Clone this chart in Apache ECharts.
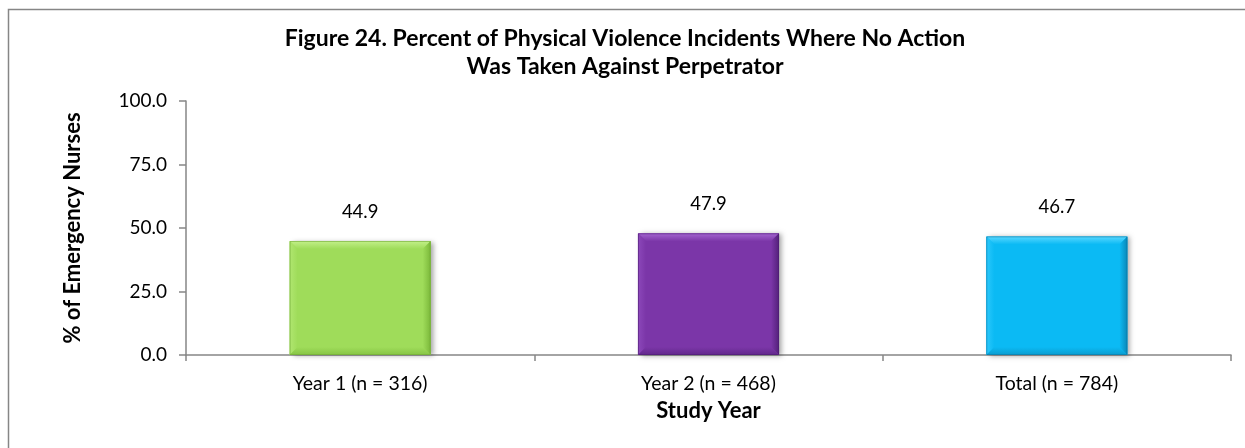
<!DOCTYPE html>
<html>
<head>
<meta charset="utf-8">
<script src="https://cdn.jsdelivr.net/npm/echarts@6/dist/echarts.min.js"></script>
<style>
  html, body { margin: 0; padding: 0; background: #ffffff; }
  #chart { width: 1245px; height: 448px; }
</style>
</head>
<body>
<div id="chart"></div>
<script>
// Study years and the share of physical violence incidents with no action taken
const categories = ['Year 1 (n = 316)', 'Year 2 (n = 468)', 'Total (n = 784)'];
const values = [44.9, 47.9, 46.7];
const yTicks = [0, 25, 50, 75, 100];

// Bevelled bar palettes: face, lit top/left edges, shaded right/bottom edges
const palettes = [
  { face: '#9fdc5a', top: '#c3f08a', left: '#b0e670', right: '#7bb83a', bottom: '#86c444', line: '#6fa836' },
  { face: '#7b36a8', top: '#a466d0', left: '#8c48ba', right: '#53207a', bottom: '#62288c', line: '#4e1d74' },
  { face: '#0bbaf4', top: '#5ad8ff', left: '#2cc8fb', right: '#0887b8', bottom: '#0a9ccf', line: '#0a7aa6' }
];

const FONT = 'Lato, "Open Sans", sans-serif';

function renderBar(params, api) {
  const idx = api.value(0);
  const val = api.value(1);
  const top = api.coord([idx, val]);
  const base = api.coord([idx, 0]);
  const band = api.size([1, 0])[0];
  const w = band * 0.405;
  const x0 = top[0] - w / 2, x1 = top[0] + w / 2;
  const y0 = top[1], y1 = base[1];
  const b = 8;
  const c = palettes[params.dataIndex % palettes.length];
  return {
    type: 'group',
    children: [
      { type: 'rect', shape: { x: x0, y: y0, width: w, height: y1 - y0 },
        style: { fill: c.face, shadowBlur: 5, shadowOffsetX: 3, shadowOffsetY: 1, shadowColor: 'rgba(0,0,0,0.35)' } },
      { type: 'polygon', shape: { points: [[x0, y0], [x1, y0], [x1 - b, y0 + b], [x0 + b, y0 + b]] },
        style: { fill: { type: 'linear', x: 0, y: 0, x2: 0, y2: 1, colorStops: [{ offset: 0, color: c.top }, { offset: 1, color: c.face }] } } },
      { type: 'polygon', shape: { points: [[x0, y0], [x0 + b, y0 + b], [x0 + b, y1 - b], [x0, y1]] },
        style: { fill: { type: 'linear', x: 0, y: 0, x2: 1, y2: 0, colorStops: [{ offset: 0, color: c.left }, { offset: 1, color: c.face }] } } },
      { type: 'polygon', shape: { points: [[x1, y0], [x1, y1], [x1 - b, y1 - b], [x1 - b, y0 + b]] },
        style: { fill: { type: 'linear', x: 0, y: 0, x2: 1, y2: 0, colorStops: [{ offset: 0, color: c.face }, { offset: 1, color: c.right }] } } },
      { type: 'polygon', shape: { points: [[x0, y1], [x1, y1], [x1 - b, y1 - b], [x0 + b, y1 - b]] },
        style: { fill: { type: 'linear', x: 0, y: 0, x2: 0, y2: 1, colorStops: [{ offset: 0, color: c.face }, { offset: 1, color: c.bottom }] } } },
      { type: 'rect', shape: { x: x0 + 0.5, y: y0 + 0.5, width: w - 1, height: y1 - y0 - 1 },
        style: { fill: null, stroke: c.line, lineWidth: 1, opacity: 0.6 } },
      { type: 'text', x: top[0], y: y0 - 29,
        style: { text: val.toFixed(1), fill: '#000000', font: '18.5px ' + FONT, align: 'center', verticalAlign: 'middle' } }
    ]
  };
}

const chart = echarts.init(document.getElementById('chart'), null, { renderer: 'canvas' });
chart.setOption({
  animation: false,
  backgroundColor: '#ffffff',
  title: {
    text: 'Figure 24. Percent of Physical Violence Incidents Where No Action\nWas Taken Against Perpetrator',
    left: 620,
    top: 20,
    textAlign: 'center',
    textStyle: { fontFamily: FONT, fontWeight: 'bold', fontSize: 23, lineHeight: 28, color: '#000000' }
  },
  graphic: [
    { type: 'rect', shape: { x: 8.5, y: 9.5, width: 1300, height: 500 }, z: 100,
      style: { fill: null, stroke: '#868686', lineWidth: 1.5 } }
  ],
  grid: { left: 186, right: 14, top: 101, bottom: 93, containLabel: false },
  xAxis: {
    type: 'category',
    data: categories,
    boundaryGap: true,
    name: 'Study Year',
    nameLocation: 'middle',
    nameGap: 45,
    nameTextStyle: { fontFamily: FONT, fontWeight: 'bold', fontSize: 22, color: '#000000' },
    axisLine: { lineStyle: { color: '#868686', width: 1.5 } },
    axisTick: { show: true, alignWithLabel: false, length: 6, lineStyle: { color: '#868686', width: 1.5 } },
    axisLabel: { fontFamily: FONT, fontSize: 19.5, color: '#000000', margin: 19 },
    splitLine: { show: false }
  },
  yAxis: {
    type: 'value',
    min: yTicks[0],
    max: yTicks[yTicks.length - 1],
    interval: yTicks[1] - yTicks[0],
    name: '% of Emergency Nurses',
    nameLocation: 'middle',
    nameGap: 102,
    nameRotate: 90,
    nameTextStyle: { fontFamily: FONT, fontWeight: 'bold', fontSize: 22, color: '#000000' },
    axisLine: { show: true, lineStyle: { color: '#868686', width: 1.5 } },
    axisTick: { show: true, length: 7, lineStyle: { color: '#868686', width: 1.5 } },
    axisLabel: { fontFamily: FONT, fontSize: 19, color: '#000000', margin: 19, formatter: v => v.toFixed(1) },
    splitLine: { show: false }
  },
  series: [{
    type: 'custom',
    renderItem: renderBar,
    encode: { x: 0, y: 1 },
    data: values.map((v, i) => [i, v]),
    clip: false
  }]
});
</script>
</body>
</html>
